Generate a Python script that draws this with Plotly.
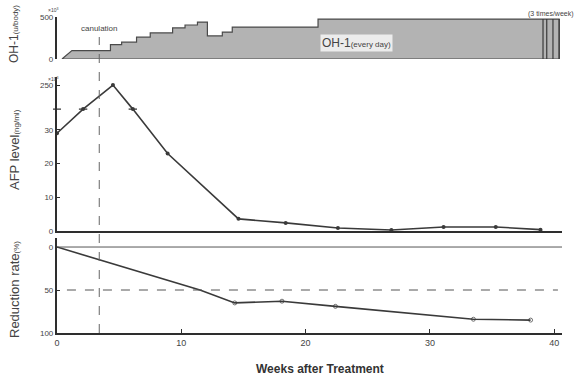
import plotly.graph_objects as go

W, H = 581, 376

# ---------------- data ----------------
# OH-1 dosing (u/body, x10^3): ramp start, step edges (weeks) and levels
DOSE_RAMP_START = 0.4
DOSE_EDGES = [1.2, 4.3, 5.2, 6.4, 7.5, 9.3, 10.3, 11.3, 12.1, 13.3, 14.1, 21.0, 39.1]
DOSE_LEVELS = [100, 170, 200, 260, 310, 370, 405, 440, 275, 320, 380, 475]
THREE_WEEKLY = [39.1, 39.4, 39.9, 40.4]

# AFP level (ng/ml, x10^3)
AFP_WEEKS = [0, 2.1, 4.5, 6.1, 8.9, 14.6, 18.4, 22.6, 26.9, 31.1, 35.3, 38.9]
AFP_VALUES = [29, 132, 250, 132, 23, 3.6, 2.4, 0.9, 0.3, 1.2, 1.2, 0.4]
AFP_BREAK_MARKS = [2.1, 6.1]

# Reduction rate (%)
RED_WEEKS = [0, 11.5, 14.3, 18.1, 22.4, 33.5, 38.1]
RED_VALUES = [0, 50, 65, 63, 69, 84, 85]
RED_MARKED = [False, False, True, True, True, True, True]

CANULATION_WEEK = 3.4
X_TICKS = [0, 10, 20, 30, 40]

# broken AFP axis: linear up to 30, compressed from 30 to 250
BRK_LO, BRK_HI, BRK_TOP = 30, 250, 43.3
def afp_scale(v):
    if v <= BRK_LO:
        return v
    return BRK_LO + (v - BRK_LO) * (BRK_TOP - BRK_LO) / (BRK_HI - BRK_LO)
BREAK_POS = afp_scale(132)

# ---------------- style ----------------
INK = "#3a3a3a"
AX = "#2e2e2e"
FONT = "Liberation Sans"

def py(px):
    return 1 - px / H

XDOM = [57 / W, 562 / W]
XRANGE = [0, (562 - 57) / 12.43]

fig = go.Figure()

# dose polygon
px_, py_ = [DOSE_RAMP_START, DOSE_EDGES[0]], [0, DOSE_LEVELS[0]]
for i, lv in enumerate(DOSE_LEVELS):
    px_ += [DOSE_EDGES[i], DOSE_EDGES[i + 1]]
    py_ += [lv, lv]
px_ += [THREE_WEEKLY[-1], THREE_WEEKLY[-1], DOSE_RAMP_START]
py_ += [DOSE_LEVELS[-1], 0, 0]
fig.add_trace(go.Scatter(x=px_, y=py_, mode="lines", fill="toself",
                         fillcolor="#b3b3b3", line=dict(color="#4a4a4a", width=1.2),
                         xaxis="x3", yaxis="y3", hoverinfo="skip"))
lx, ly = [], []
for w in THREE_WEEKLY:
    lx += [w, w, None]
    ly += [0, DOSE_LEVELS[-1], None]
fig.add_trace(go.Scatter(x=lx, y=ly, mode="lines", line=dict(color="#3a3a3a", width=1.2),
                         xaxis="x3", yaxis="y3", hoverinfo="skip"))

# AFP
fig.add_trace(go.Scatter(x=AFP_WEEKS, y=[afp_scale(v) for v in AFP_VALUES],
                         mode="lines+markers", line=dict(color=INK, width=1.6),
                         marker=dict(size=4, color=INK),
                         xaxis="x2", yaxis="y2"))
fig.add_trace(go.Scatter(x=AFP_BREAK_MARKS, y=[BREAK_POS] * len(AFP_BREAK_MARKS),
                         mode="markers",
                         marker=dict(symbol="line-ew", size=6,
                                     line=dict(color=INK, width=1.3)),
                         xaxis="x2", yaxis="y2", hoverinfo="skip"))

# Reduction
fig.add_trace(go.Scatter(x=RED_WEEKS, y=RED_VALUES, mode="lines+markers",
                         line=dict(color=INK, width=1.6),
                         marker=dict(size=[4 if m else 0 for m in RED_MARKED],
                                     symbol="circle-open", color=INK),
                         xaxis="x", yaxis="y"))

common_x = dict(domain=XDOM, range=XRANGE, showgrid=False, zeroline=False, automargin=False)
yfont = dict(family=FONT, size=8, color="#444")

fig.update_layout(
    width=W, height=H, margin=dict(l=0, r=0, t=0, b=0, autoexpand=False),
    paper_bgcolor="white", plot_bgcolor="white", showlegend=False,
    font=dict(family=FONT, color="#333"),
    xaxis=dict(**common_x, anchor="y", showline=True, linecolor=AX, linewidth=2.2,
               ticks="inside", ticklen=4, tickcolor=AX, tickvals=X_TICKS,
               tickfont=dict(family=FONT, size=9, color="#444")),
    xaxis2=dict(**common_x, anchor="y2", matches="x", showline=True, linecolor=AX,
                linewidth=2.2, showticklabels=False),
    xaxis3=dict(**common_x, anchor="y3", matches="x", showline=False,
                showticklabels=False),
    yaxis=dict(domain=[py(333), py(238)], range=[100, -10.5], anchor="x", automargin=False,
               showline=True, linecolor=AX, linewidth=2.2, showgrid=False, zeroline=False,
               ticks="inside", ticklen=3, tickcolor=AX, tickvals=[0, 50, 100],
               tickfont=yfont),
    yaxis2=dict(domain=[py(231), py(77)], range=[0, (231 - 77) / 3.37], anchor="x2",
                automargin=False,
                showline=True, linecolor=AX, linewidth=2.2, showgrid=False, zeroline=False,
                ticks="inside", ticklen=3, tickcolor=AX,
                tickvals=[0, 10, 20, 30, BRK_TOP], ticktext=["0", "10", "20", "30", "250"],
                tickfont=yfont),
    yaxis3=dict(domain=[py(59), py(17)], range=[0, 500], anchor="x3", automargin=False,
                showline=True, linecolor=AX, linewidth=2.2, showgrid=False, zeroline=False,
                ticks="", tickvals=[0, 500], tickfont=yfont),
)

# reference lines
fig.add_shape(type="line", xref="x", yref="y", x0=0, x1=XRANGE[1], y0=0, y1=0,
              line=dict(color="#555", width=1))
fig.add_shape(type="line", xref="x", yref="y", x0=0.8, x1=40.3, y0=50, y1=50,
              line=dict(color="#555", width=1, dash="dash"))
fig.add_shape(type="line", xref="x", yref="paper", x0=CANULATION_WEEK, x1=CANULATION_WEEK,
              y0=py(333), y1=py(37), line=dict(color="#666", width=1, dash="dash"))
fig.add_shape(type="line", xref="paper", yref="y2", x0=53 / W, x1=61 / W,
              y0=BREAK_POS, y1=BREAK_POS, line=dict(color=AX, width=1.2))

# annotations
def ann(text, x, y, size, **kw):
    fig.add_annotation(text=text, x=x, y=y, xref=kw.pop("xref", "paper"), yref="paper",
                       xanchor="center", yanchor="middle",
                       showarrow=False, font=dict(family=FONT, size=size,
                                                  color=kw.pop("color", "#444")), **kw)

ann("canulation", CANULATION_WEEK, py(28), 8, xref="x3")
ann("OH-1<span style='font-size:8px'>(every day)</span>", 24.1, py(43), 12,
    xref="x3", bgcolor="#ececec", borderpad=1)
ann("(3 times/week)", 551 / W, py(14), 7)
ann("×10<sup>3</sup>", 53 / W, py(10), 5)
ann("×10<sup>3</sup>", 53 / W, py(79), 5)
ann("OH-1<span style='font-size:8px'>(u/body)</span>", 14 / W, py(34), 12, textangle=-90)
ann("AFP level<span style='font-size:8px'>(ng/ml)</span>", 14 / W, py(150), 13, textangle=-90)
ann("Reduction rate<span style='font-size:8px'>(%)</span>", 14 / W, py(290), 13, textangle=-90)
ann("<b>Weeks after Treatment</b>", 320 / W, py(369), 12, color="#333")

fig.write_html("out.html", config={"displayModeBar": False},
               post_script="document.body.style.margin='0';document.body.style.overflow='hidden';")
